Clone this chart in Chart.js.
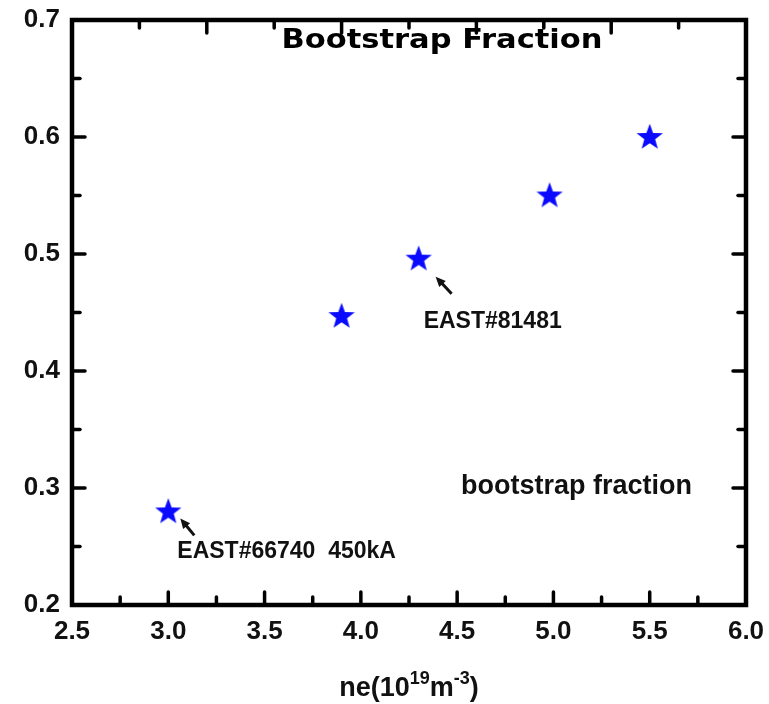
<!DOCTYPE html>
<html>
<head>
<meta charset="utf-8">
<script src="https://cdn.jsdelivr.net/npm/chart.js@4.4.1/dist/chart.umd.min.js"></script>
<style>
  html, body { margin: 0; padding: 0; background: #fff; }
  #c { display: block; }
</style>
</head>
<body>
<canvas id="c" width="769" height="704"></canvas>
<script>
// electron density (10^19 m^-3) vs bootstrap current fraction
const densities = [3.0, 3.9, 4.3, 4.98, 5.5];
const fractions = [0.28, 0.447, 0.496, 0.55, 0.60];

const xTicks = [2.5, 3.0, 3.5, 4.0, 4.5, 5.0, 5.5, 6.0];
const yTicks = [0.2, 0.3, 0.4, 0.5, 0.6, 0.7];
// the top frame carries its own 0..10 division
const topTicks = [0, 2, 4, 6, 8, 10];

const shotLabels = ["EAST#66740  450kA", "EAST#81481"];
const shotIndex = [0, 2];

// filled five-point star used as the marker
function makeStar(color) {
  const cv = document.createElement("canvas");
  cv.width = 30; cv.height = 30;
  const g = cv.getContext("2d");
  g.fillStyle = color;
  g.beginPath();
  for (let i = 0; i < 10; i++) {
    const r = i % 2 === 0 ? 13.8 : 5.7;
    const a = -Math.PI / 2 + i * Math.PI / 5;
    const px = 15 + r * Math.cos(a), py = 15.5 + r * Math.sin(a);
    if (i === 0) g.moveTo(px, py); else g.lineTo(px, py);
  }
  g.closePath();
  g.fill();
  return cv;
}

function arrow(ctx, x0, y0, x1, y1) {
  const ang = Math.atan2(y1 - y0, x1 - x0);
  ctx.save();
  ctx.strokeStyle = "#111";
  ctx.fillStyle = "#111";
  ctx.lineWidth = 3;
  ctx.beginPath();
  ctx.moveTo(x0, y0);
  ctx.lineTo(x1 - 6 * Math.cos(ang), y1 - 6 * Math.sin(ang));
  ctx.stroke();
  ctx.beginPath();
  ctx.moveTo(x1, y1);
  ctx.lineTo(x1 - 10 * Math.cos(ang) + 4.5 * Math.sin(ang), y1 - 10 * Math.sin(ang) - 4.5 * Math.cos(ang));
  ctx.lineTo(x1 - 10 * Math.cos(ang) - 4.5 * Math.sin(ang), y1 - 10 * Math.sin(ang) + 4.5 * Math.cos(ang));
  ctx.closePath();
  ctx.fill();
  ctx.restore();
}

function mids(arr) {
  const out = [];
  for (let i = 0; i < arr.length - 1; i++) out.push((arr[i] + arr[i + 1]) / 2);
  return out;
}

// box frame with inward major/minor ticks on all four sides
const framePlugin = {
  id: "frame",
  afterDatasetsDraw(chart) {
    const { ctx, chartArea: a, scales } = chart;
    const x = scales.x, y = scales.y, x2 = scales.x2;
    ctx.save();
    ctx.strokeStyle = "#000";
    ctx.lineCap = "round";
    ctx.lineWidth = 3.5;
    const tick = (x0, y0, x1, y1) => { ctx.beginPath(); ctx.moveTo(x0, y0); ctx.lineTo(x1, y1); ctx.stroke(); };
    const MAJ = 13, MIN = 8;
    xTicks.forEach(v => { const p = x.getPixelForValue(v); tick(p, a.bottom, p, a.bottom - MAJ); });
    mids(xTicks).forEach(v => { const p = x.getPixelForValue(v); tick(p, a.bottom, p, a.bottom - MIN); });
    topTicks.forEach(v => { const p = x2.getPixelForValue(v); tick(p, a.top, p, a.top + MAJ); });
    mids(topTicks).forEach(v => { const p = x2.getPixelForValue(v); tick(p, a.top, p, a.top + MIN); });
    yTicks.forEach(v => {
      const p = y.getPixelForValue(v);
      tick(a.left, p, a.left + MAJ, p);
      tick(a.right, p, a.right - MAJ, p);
    });
    mids(yTicks).forEach(v => {
      const p = y.getPixelForValue(v);
      tick(a.left, p, a.left + MIN, p);
      tick(a.right, p, a.right - MIN, p);
    });
    ctx.lineCap = "butt";
    ctx.lineWidth = 4.5;
    ctx.strokeRect(a.left, a.top, a.right - a.left, a.bottom - a.top);

    // title across the top edge
    ctx.fillStyle = "#000";
    ctx.font = "bold 26px 'DejaVu Sans', sans-serif";
    const title = "Bootstrap Fraction";
    const w = ctx.measureText(title).width;
    ctx.save();
    ctx.translate((a.left + a.right) / 2 + 33, a.top + 28);
    ctx.scale(321 / w, 1);
    ctx.textAlign = "center";
    ctx.textBaseline = "alphabetic";
    ctx.fillText(title, 0, 0);
    ctx.restore();

    // series label
    ctx.font = "bold 27px 'Liberation Sans', Arial, sans-serif";
    ctx.textAlign = "left";
    ctx.fillStyle = "#111";
    ctx.fillText("bootstrap fraction", x.getPixelForValue(4.52), y.getPixelForValue(0.295));

    // shot annotations with arrows
    ctx.font = "bold 23px 'Liberation Sans', Arial, sans-serif";
    const meta = chart.getDatasetMeta(0).data;
    const p0 = meta[shotIndex[0]], p1 = meta[shotIndex[1]];
    ctx.fillText(shotLabels[0], p0.x + 9, p0.y + 47);
    arrow(ctx, p0.x + 26, p0.y + 24, p0.x + 12, p0.y + 7);
    ctx.fillText(shotLabels[1], p1.x + 5, p1.y + 69);
    arrow(ctx, p1.x + 33, p1.y + 35, p1.x + 17, p1.y + 18);

    // x axis title with superscripts
    const base = 696;
    const parts = [
      ["ne(10", 27, 0], ["19", 18, -12], ["m", 27, 0], ["-3", 18, -12], [")", 27, 0]
    ];
    let total = 0;
    parts.forEach(pt => { ctx.font = "bold " + pt[1] + "px 'Liberation Sans', Arial, sans-serif"; total += ctx.measureText(pt[0]).width; });
    let cx = (a.left + a.right) / 2 - total / 2;
    parts.forEach(pt => {
      ctx.font = "bold " + pt[1] + "px 'Liberation Sans', Arial, sans-serif";
      ctx.fillText(pt[0], cx, base + pt[2]);
      cx += ctx.measureText(pt[0]).width;
    });
    ctx.restore();
  }
};

new Chart(document.getElementById("c"), {
  type: "scatter",
  data: {
    datasets: [{
      data: densities.map((d, i) => ({ x: d, y: fractions[i] })),
      pointStyle: makeStar("#0a0aff"),
      pointRadius: 13,
      pointHoverRadius: 13
    }]
  },
  options: {
    responsive: false,
    animation: false,
    events: [],
    layout: { padding: { top: 20, right: 23, left: 0, bottom: 0 } },
    plugins: { legend: { display: false }, tooltip: { enabled: false } },
    scales: {
      x: {
        type: "linear",
        position: "bottom",
        min: 2.5, max: 6.0,
        afterBuildTicks: s => { s.ticks = xTicks.map(v => ({ value: v })); },
        afterFit: s => { s.height = 99; s.paddingLeft = 0; s.paddingRight = 0; },
        grid: { display: false, drawTicks: false },
        border: { display: false },
        ticks: {
          padding: 11,
          color: "#111",
          font: { family: "'Liberation Sans', Arial, sans-serif", size: 26, weight: "bold" },
          callback: v => Number(v).toFixed(1),
          maxRotation: 0
        }
      },
      x2: {
        type: "linear",
        position: "top",
        min: 0, max: 10,
        display: false
      },
      y: {
        type: "linear",
        min: 0.2, max: 0.7,
        afterBuildTicks: s => { s.ticks = yTicks.map(v => ({ value: v })); },
        afterFit: s => { s.width = 72; s.paddingTop = 0; s.paddingBottom = 0; },
        grid: { display: false, drawTicks: false },
        border: { display: false },
        ticks: {
          padding: 12,
          color: "#111",
          font: { family: "'Liberation Sans', Arial, sans-serif", size: 26, weight: "bold" },
          callback: v => Number(v).toFixed(1)
        }
      }
    }
  },
  plugins: [framePlugin]
});
</script>
</body>
</html>
